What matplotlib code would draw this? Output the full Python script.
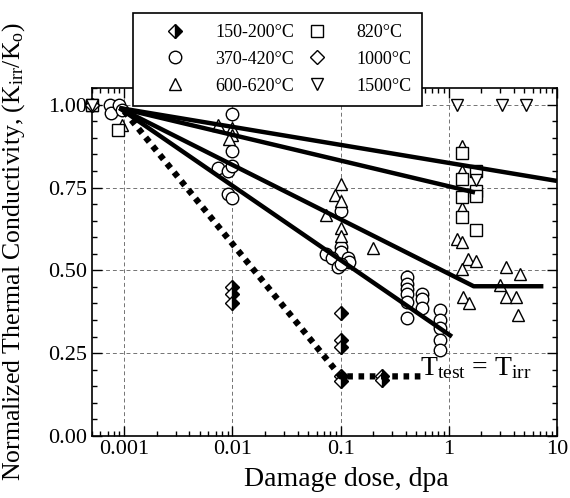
import numpy as np
import matplotlib
matplotlib.use("Agg")
import matplotlib.pyplot as plt
from matplotlib.ticker import LogLocator, NullFormatter, MultipleLocator

plt.rcParams['font.family'] = ['Liberation Serif', 'DejaVu Serif']
plt.rcParams['mathtext.fontset'] = 'custom'
plt.rcParams['mathtext.rm'] = 'Liberation Serif'
plt.rcParams['mathtext.it'] = 'Liberation Serif:italic'

# data: (dose in dpa, normalized conductivity)
x_150 = [0.01, 0.01, 0.01, 0.1, 0.1, 0.1, 0.1, 0.1, 0.24, 0.24]
y_150 = [0.45, 0.43, 0.40, 0.37, 0.29, 0.27, 0.18, 0.165, 0.18, 0.17]

x_370 = [0.0005, 0.00073, 0.00076, 0.0009, 0.00095,
         0.01, 0.01, 0.0074, 0.009, 0.01, 0.009, 0.01,
         0.1, 0.1, 0.1, 0.074, 0.083, 0.116, 0.12, 0.094, 0.1,
         0.41, 0.41, 0.41, 0.41, 0.41, 0.41,
         0.56, 0.56, 0.56,
         0.83, 0.83, 0.83, 0.83, 0.83]
y_370 = [1.00, 1.00, 0.976, 1.00, 0.985,
         0.973, 0.86, 0.81, 0.80, 0.816, 0.73, 0.717,
         0.68, 0.57, 0.555, 0.548, 0.536, 0.536, 0.524, 0.51, 0.52,
         0.48, 0.46, 0.445, 0.43, 0.404, 0.355,
         0.43, 0.413, 0.385,
         0.38, 0.35, 0.325, 0.29, 0.26]

x_600 = [0.0005, 0.00096, 0.0074, 0.01, 0.0098, 0.0093,
         0.1, 0.088, 0.1, 0.074, 0.1, 0.1, 0.2,
         1.32, 1.32, 1.32, 1.19, 1.32, 1.5, 1.8, 1.32,
         3.4, 4.6, 3.0, 1.35, 1.53, 3.4, 4.2, 4.4]
y_600 = [1.00, 0.94, 0.94, 0.93, 0.91, 0.895,
         0.76, 0.726, 0.708, 0.666, 0.627, 0.605, 0.566,
         0.876, 0.80, 0.687, 0.596, 0.587, 0.533, 0.527, 0.503,
         0.509, 0.49, 0.455, 0.42, 0.40, 0.42, 0.42, 0.364]

x_820 = [0.0005, 0.00088, 1.32, 1.32, 1.32, 1.32, 1.8, 1.8, 1.8, 1.8]
y_820 = [1.00, 0.925, 0.855, 0.777, 0.72, 0.66, 0.80, 0.74, 0.725, 0.623]

x_1000 = [0.0005]
y_1000 = [1.00]

x_1500 = [0.0005, 1.19, 3.1, 5.2, 1.8]
y_1500 = [1.00, 1.00, 1.00, 1.00, 0.774]

# trend lines
fit_x = [[0.0009, 10], [0.0009, 1.75], [0.0009, 1.7, 7.5], [0.0009, 1.07]]
fit_y = [[0.99, 0.77], [0.99, 0.735], [0.99, 0.452, 0.452], [0.99, 0.30]]
dot_x = [0.001, 0.1, 0.55]
dot_y = [0.98, 0.18, 0.18]

fig = plt.figure(figsize=(5.7, 4.98), dpi=100)
ax = fig.add_axes([0.161, 0.1245, 0.816, 0.6985])

ms = 9
kw = dict(linestyle='none', markeredgecolor='black', markeredgewidth=1.0,
          markerfacecolor='white', markersize=ms, clip_on=False, zorder=3)
ax.plot(x_150, y_150, marker='D', fillstyle='right', markerfacecoloralt='white',
        markerfacecolor='black', linestyle='none', markeredgecolor='black',
        markeredgewidth=1.0, markersize=7.5, zorder=3, label='150-200\u00b0C')
ax.plot(x_370, y_370, marker='o', label='370-420\u00b0C', **kw)
ax.plot(x_600, y_600, marker='^', label='600-620\u00b0C', **kw)
ax.plot(x_820, y_820, marker='s', label='820\u00b0C', **{**kw, 'markersize': 8})
ax.plot(x_1000, y_1000, marker='D', label='1000\u00b0C',
        **{**kw, 'markersize': 7.5})
ax.plot(x_1500, y_1500, marker='v', label='1500\u00b0C', **kw)

for fx, fy in zip(fit_x, fit_y):
    ax.plot(fx, fy, color='black', lw=3.2, solid_capstyle='butt', zorder=4)
ax.plot(dot_x, dot_y, color='black', lw=4.5, linestyle=(0, (0.9, 0.9)),
        dash_capstyle='butt', zorder=4)

ax.set_xscale('log')
ax.set_xlim(0.0005, 10)
ax.set_ylim(0, 1.05)
ax.set_xticks([0.001, 0.01, 0.1, 1, 10])
ax.set_xticklabels(['0.001', '0.01', '0.1', '1', '10'])
ax.xaxis.set_minor_locator(LogLocator(base=10, subs=np.arange(2, 10)))
ax.xaxis.set_minor_formatter(NullFormatter())
ax.set_yticks([0, 0.25, 0.5, 0.75, 1.0])
ax.set_yticklabels(['0.00', '0.25', '0.50', '0.75', '1.00'])
ax.yaxis.set_minor_locator(MultipleLocator(0.05))

ax.tick_params(which='both', direction='in', top=True, right=True,
               labelsize=16, width=1.0)
ax.tick_params(which='major', length=7, pad=3)
ax.tick_params(which='minor', length=3.5)
for s in ax.spines.values():
    s.set_linewidth(1.2)

ax.grid(True, which='major', color='0.45', linestyle=(0, (4, 3)), lw=0.7)
ax.set_axisbelow(True)

ax.set_xlabel('Damage dose, dpa', fontsize=20, labelpad=0)
ax.xaxis.set_label_coords(0.548, -0.09)
ax.set_ylabel(r'Normalized Thermal Conductivity, (K$_{\rm irr}$/K$_{\rm o}$)',
              fontsize=18.5, labelpad=2)
ax.yaxis.set_label_coords(-0.14, 0.53)

ax.text(0.825, 0.195, r'T$_{\rm test}$ = T$_{\rm irr}$', transform=ax.transAxes,
        fontsize=20, ha='center', va='center')

leg = ax.legend(ncol=2, loc='upper left', bbox_to_anchor=(133 / 570, 1 - 13 / 498),
                bbox_transform=fig.transFigure, borderaxespad=0, fontsize=13,
                frameon=True, fancybox=False, edgecolor='black', framealpha=1,
                handlelength=3.5, handletextpad=0.45, borderpad=0.6,
                labelspacing=0.55, columnspacing=-0.5)
leg.get_frame().set_linewidth(1.2)

fig.savefig('out.png', dpi=100)
